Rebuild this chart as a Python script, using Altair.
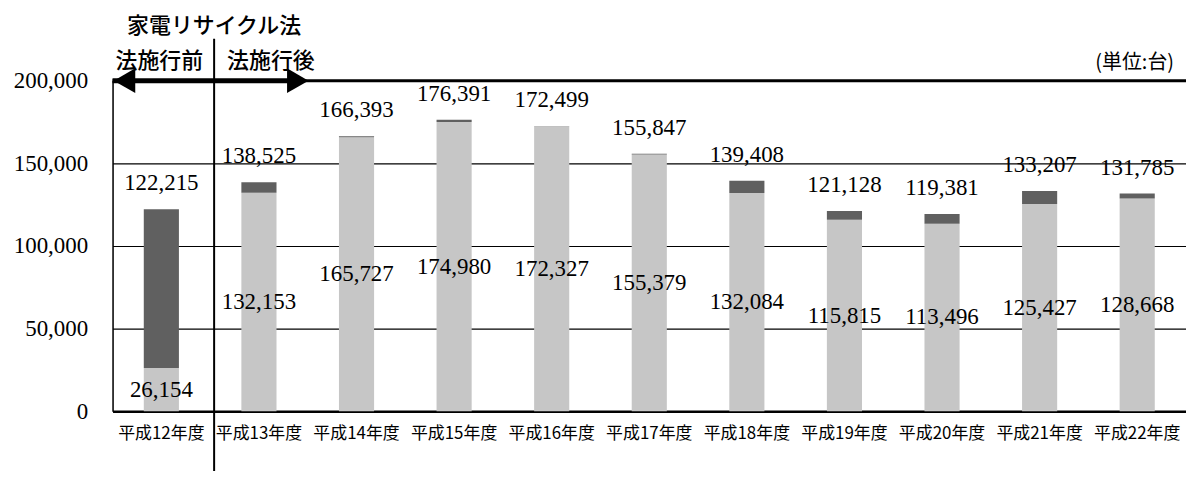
import altair as alt
import pandas as pd

cats = ["平成12年度", "平成13年度", "平成14年度", "平成15年度", "平成16年度", "平成17年度",
        "平成18年度", "平成19年度", "平成20年度", "平成21年度", "平成22年度"]
light = [26154, 132153, 165727, 174980, 172327, 155379, 132084, 115815, 113496, 125427, 128668]
total = [122215, 138525, 166393, 176391, 172499, 155847, 139408, 121128, 119381, 133207, 131785]

W, H = 1078, 332
df = pd.DataFrame({"cat": cats, "light": light, "total": total})
df["zero"] = 0
df["mid"] = df["light"] / 2

serif = "Liberation Serif"
jp = "Noto Sans CJK JP"

xenc = alt.X("cat:N", sort=cats,
             scale=alt.Scale(domain=cats, paddingInner=0.64, paddingOuter=0.32),
             axis=alt.Axis(title=None, labelAngle=0, labelFont=jp, labelFontSize=17,
                           labelColor="black", labelPadding=14, ticks=False,
                           domainColor="black", domainWidth=2.5))
yscale = alt.Scale(domain=[0, 200000])

base = alt.Chart(df)

bars_light = base.mark_bar(color="#c6c6c6").encode(
    x=xenc,
    y=alt.Y("zero:Q", scale=yscale,
            axis=alt.Axis(title=None, values=[0, 50000, 100000, 150000, 200000], format=",d",
                          labelFont=serif, labelFontSize=23, labelColor="black",
                          labelPadding=25, ticks=False, domainColor="black", domainWidth=1.5,
                          grid=True, gridColor="black", gridWidth=1.2)),
    y2="light:Q",
)
bars_dark = base.mark_bar(color="#606060").encode(
    x=alt.X("cat:N", sort=cats), y=alt.Y("light:Q", scale=yscale), y2="total:Q"
)
lbl_total = base.mark_text(font=serif, fontSize=23, color="black", baseline="middle", dy=-26).encode(
    x=alt.X("cat:N", sort=cats), y=alt.Y("total:Q", scale=yscale), text=alt.Text("total:Q", format=",d")
)
lbl_light = base.mark_text(font=serif, fontSize=23, color="black", baseline="middle").encode(
    x=alt.X("cat:N", sort=cats), y=alt.Y("mid:Q", scale=yscale), text=alt.Text("light:Q", format=",d")
)

one = alt.Chart(pd.DataFrame({"a": [0]}))
top_line = one.mark_rule(color="black", strokeWidth=3).encode(
    x=alt.value(0), x2=alt.value(W), y=alt.value(0))
arrow_line = one.mark_rule(color="black", strokeWidth=5).encode(
    x=alt.value(0), x2=alt.value(190), y=alt.value(0))
arrow_l = one.mark_point(shape="triangle-left", filled=True, size=620, color="black", opacity=1).encode(
    x=alt.value(12), y=alt.value(0))
arrow_r = one.mark_point(shape="triangle-right", filled=True, size=620, color="black", opacity=1).encode(
    x=alt.value(186), y=alt.value(0))
divider = one.mark_rule(color="black", strokeWidth=2).encode(
    x=alt.value(102), y=alt.value(-42), y2=alt.value(392))

t1 = one.mark_text(text="家電リサイクル法", font=jp, fontSize=22, fontWeight=500,
                   color="black", align="center", baseline="middle").encode(
    x=alt.value(102), y=alt.value(-55))
t2 = one.mark_text(text="法施行前", font=jp, fontSize=22, fontWeight=500,
                   color="black", align="center", baseline="middle").encode(
    x=alt.value(47), y=alt.value(-20))
t3 = one.mark_text(text="法施行後", font=jp, fontSize=22, fontWeight=500,
                   color="black", align="center", baseline="middle").encode(
    x=alt.value(159), y=alt.value(-20))
t4 = one.mark_text(text="(単位:台)", font=jp, fontSize=20,
                   color="black", align="right", baseline="middle").encode(
    x=alt.value(1066), y=alt.value(-18))

chart = alt.layer(
    bars_light, bars_dark, lbl_total, lbl_light,
    top_line, arrow_line, arrow_l, arrow_r, divider, t1, t2, t3, t4
).properties(
    width=W, height=H,
    autosize=alt.AutoSizeParams(type="none"),
    padding={"left": 105, "top": 72, "right": 0, "bottom": 60},
).configure_view(stroke=None).configure(background="white")

chart.save("out.html", embed_options={"renderer": "svg", "actions": False})
